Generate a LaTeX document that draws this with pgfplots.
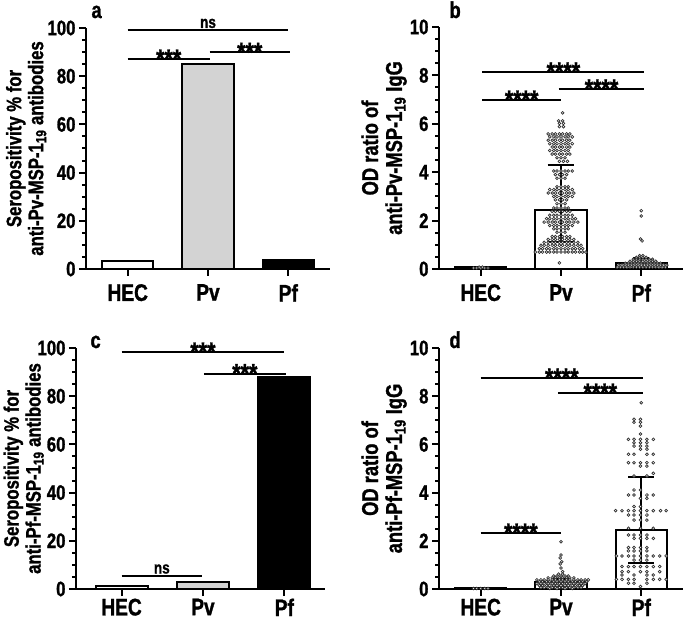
\documentclass[border=0pt]{standalone}
\usepackage{fontspec}
\setmainfont{Liberation Sans Bold}[FakeStretch=0.8, FakeBold=1.2]
\usepackage{pgfplots}
\pgfplotsset{compat=1.18}
\definecolor{lgray}{HTML}{D3D3D3}
\definecolor{ptgray}{HTML}{303030}
\pgfplotsset{
 panel/.style={
   scale only axis, anchor=south west,
   axis x line*=bottom, axis y line*=left,
   axis line style={line width=2bp, black},
   tick style={line width=2bp, black},
   tick align=outside,
   major tick length=7bp, minor tick length=4bp,
   xtick={0,1,2}, xticklabels={HEC,Pv,Pf},
   x tick label style={font=\fontsize{24}{24}\selectfont, inner sep=0.5bp, yshift=-7.5bp},
   y tick label style={font=\fontsize{21}{21}\selectfont},
   /pgf/number format/assume math mode=true,
   ymin=0, minor y tick num=3,
   xmin=-0.52, xmax=2.52, width=244bp, height=241bp,
   clip=false,
   ylabel style={font=\fontsize{21}{22}\selectfont, align=center, anchor=center},
 },
 bar/.style={ybar, bar width=0.64, bar shift=0pt, draw=black, line width=2bp},
 pts/.style={only marks, mark=*, mark size=1.4bp, mark options={draw=ptgray, fill=white, line width=0.7bp}},
 sig/.style={black, line width=2bp, forget plot, no markers},
}
\newcommand{\ns}{\fontsize{17}{17}\selectfont}
\newcommand{\st}{\fontsize{27}{27}\selectfont}
\newcommand{\pl}{\fontsize{23}{23}\selectfont}
\begin{document}
\begin{tikzpicture}
\path[use as bounding box] (0,0) rectangle (685bp,620bp);
% ---------------- panel a
\begin{axis}[panel, at={(86bp,351bp)}, ymax=100, ytick={0,20,...,100},
  ylabel={Seropositivity \% for\\anti-Pv-MSP-1\textsubscript{19} antibodies},
  ylabel style={at={(axis description cs:-0.245,0.5)}}]
\addplot[bar, fill=white] coordinates {(0,3.4)};
\addplot[bar, fill=lgray] coordinates {(1,85.2)};
\addplot[bar, fill=black] coordinates {(2,3.8)};
\addplot[sig] coordinates {(0,99.2) (2,99.2)} node[pos=0.5, anchor=base, yshift=2bp, font=\ns] {ns};
\addplot[sig] coordinates {(0,87.1) (1.02,87.1)} node[pos=0.5, anchor=base, yshift=-9bp, font=\st] {***};
\addplot[sig] coordinates {(1.02,89.9) (2.02,89.9)} node[pos=0.5, anchor=base, yshift=-9bp, font=\st] {***};
\node[anchor=base west, xshift=2bp, yshift=10bp, font=\pl] at (rel axis cs:0,1) {a};
\end{axis}
% ---------------- panel b
\begin{axis}[panel, at={(439bp,351bp)}, height=242bp, ymax=10, ytick={0,2,...,10},
  ylabel={OD ratio of\\anti-Pv-MSP-1\textsubscript{19} IgG},
  ylabel style={at={(axis description cs:-0.225,0.5)}, font=\fontsize{23}{24}\selectfont}]
\addplot[bar, fill=white] coordinates {(0,0.07)};
\addplot[bar, fill=white] coordinates {(1,2.45)};
\addplot[bar, fill=white] coordinates {(2,0.25)};
\addplot[pts] table[row sep=\\, x expr=\thisrow{d}, y=v] {
d v\\
-0.09 0.04\\ -0.05 0.04\\ 0 0.04\\ 0.05 0.04\\ 0.09 0.04\\ -0.02 0.08\\ 0.02 0.08\\
};
\addplot[pts] table[row sep=\\, x expr=\thisrow{d}+1, y=v] {
d v\\
0.02 6.45\\ -0.03 6.12\\ 0.02 6.12\\ -0.02 6.02\\ 0.03 6.02\\ -0.02 5.88\\ 0.03 5.88\\
-0.16 5.58\\ -0.11 5.58\\ -0.07 5.58\\ -0.02 5.58\\ 0.02 5.58\\ 0.07 5.58\\ 0.11 5.58\\
-0.14 5.46\\ -0.09 5.46\\ -0.05 5.46\\ 0 5.46\\ 0.05 5.46\\ 0.09 5.46\\ 0.14 5.46\\
-0.16 5.32\\ -0.11 5.32\\ -0.07 5.32\\ -0.02 5.32\\ 0.02 5.32\\ 0.07 5.32\\ 0.11 5.32\\
-0.14 5.18\\ -0.09 5.18\\ -0.05 5.18\\ 0 5.18\\ 0.05 5.18\\ 0.09 5.18\\ 0.14 5.18\\
-0.11 5.04\\ -0.07 5.04\\ -0.02 5.04\\ 0.02 5.04\\ 0.07 5.04\\ 0.11 5.04\\
-0.14 4.9\\ -0.09 4.9\\ -0.05 4.9\\ 0 4.9\\ 0.05 4.9\\ 0.09 4.9\\
-0.11 4.75\\ -0.07 4.75\\ -0.02 4.75\\ 0.02 4.75\\ 0.07 4.75\\ 0.11 4.75\\
-0.05 4.6\\ 0 4.6\\ 0.05 4.6\\
-0.02 4.45\\ 0.03 4.45\\ 0.08 4.45\\
-0.09 4.05\\ -0.05 4.05\\ 0 4.05\\ 0.05 4.05\\ 0.09 4.05\\ 0.14 4.05\\
-0.07 3.9\\ -0.02 3.9\\ 0.02 3.9\\ 0.07 3.9\\
-0.05 3.75\\ 0 3.75\\ 0.05 3.75\\
-0.05 3.4\\ 0 3.4\\ 0.05 3.4\\ 0.09 3.4\\
-0.14 3.28\\ -0.09 3.28\\ -0.05 3.28\\ 0 3.28\\ 0.05 3.28\\ 0.09 3.28\\ 0.14 3.28\\
-0.16 3.14\\ -0.11 3.14\\ -0.07 3.14\\ -0.02 3.14\\ 0.02 3.14\\ 0.07 3.14\\ 0.11 3.14\\ 0.16 3.14\\
-0.09 3.0\\ -0.05 3.0\\ 0 3.0\\ 0.05 3.0\\ 0.09 3.0\\ 0.14 3.0\\
-0.07 2.86\\ -0.02 2.86\\ 0.02 2.86\\ 0.07 2.86\\
-0.05 2.7\\ 0 2.7\\ 0.05 2.7\\
-0.09 2.52\\ -0.05 2.52\\ 0 2.52\\ 0.05 2.52\\ 0.09 2.52\\
-0.11 2.38\\ -0.07 2.38\\ -0.02 2.38\\ 0.02 2.38\\ 0.07 2.38\\ 0.11 2.38\\
-0.14 2.22\\ -0.09 2.22\\ -0.05 2.22\\ 0 2.22\\ 0.05 2.22\\ 0.09 2.22\\ 0.14 2.22\\
-0.18 2.08\\ -0.14 2.08\\ -0.09 2.08\\ -0.05 2.08\\ 0 2.08\\ 0.05 2.08\\ 0.09 2.08\\ 0.14 2.08\\ 0.18 2.08\\
-0.21 1.94\\ -0.16 1.94\\ -0.11 1.94\\ -0.07 1.94\\ -0.02 1.94\\ 0.02 1.94\\ 0.07 1.94\\ 0.11 1.94\\ 0.16 1.94\\ 0.21 1.94\\
-0.14 1.8\\ -0.09 1.8\\ -0.05 1.8\\ 0 1.8\\ 0.05 1.8\\ 0.09 1.8\\ 0.14 1.8\\
-0.09 1.66\\ -0.05 1.66\\ 0 1.66\\ 0.05 1.66\\ 0.09 1.66\\
-0.05 1.52\\ 0 1.52\\ 0.05 1.52\\
-0.11 1.34\\ -0.07 1.34\\ -0.02 1.34\\ 0.02 1.34\\ 0.07 1.34\\ 0.11 1.34\\
-0.16 1.22\\ -0.11 1.22\\ -0.07 1.22\\ -0.02 1.22\\ 0.02 1.22\\ 0.07 1.22\\ 0.11 1.22\\ 0.16 1.22\\
-0.21 1.1\\ -0.16 1.1\\ -0.11 1.1\\ -0.07 1.1\\ -0.02 1.1\\ 0.02 1.1\\ 0.07 1.1\\ 0.11 1.1\\ 0.16 1.1\\ 0.21 1.1\\
-0.25 0.98\\ -0.21 0.98\\ -0.16 0.98\\ -0.11 0.98\\ -0.07 0.98\\ -0.02 0.98\\ 0.02 0.98\\ 0.07 0.98\\ 0.11 0.98\\ 0.16 0.98\\ 0.21 0.98\\ 0.25 0.98\\
-0.27 0.84\\ -0.23 0.84\\ -0.18 0.84\\ -0.14 0.84\\ -0.09 0.84\\ -0.05 0.84\\ 0 0.84\\ 0.05 0.84\\ 0.09 0.84\\ 0.14 0.84\\ 0.18 0.84\\ 0.23 0.84\\ 0.27 0.84\\
-0.32 0.7\\ -0.27 0.7\\ -0.23 0.7\\ -0.18 0.7\\ -0.14 0.7\\ -0.09 0.7\\ -0.05 0.7\\ 0 0.7\\ 0.05 0.7\\ 0.09 0.7\\ 0.14 0.7\\ 0.18 0.7\\ 0.23 0.7\\ 0.27 0.7\\ 0.31 0.7\\
-0.02 0.25\\
};
\addplot[pts] table[row sep=\\, x expr=\thisrow{d}+2, y=v] {
d v\\
0 2.41\\ 0 2.19\\ -0.01 1.24\\ 0.01 1.16\\
-0.02 0.55\\ 0.02 0.55\\
-0.06 0.48\\ -0.02 0.48\\ 0.02 0.48\\ 0.06 0.48\\
-0.1 0.4\\ -0.06 0.4\\ -0.02 0.4\\ 0.02 0.4\\ 0.06 0.4\\ 0.1 0.4\\ 0.14 0.4\\
-0.14 0.32\\ -0.1 0.32\\ -0.06 0.32\\ -0.02 0.32\\ 0.02 0.32\\ 0.06 0.32\\ 0.1 0.32\\ 0.14 0.32\\ 0.18 0.32\\
-0.2 0.24\\ -0.16 0.24\\ -0.12 0.24\\ -0.08 0.24\\ -0.04 0.24\\ 0 0.24\\ 0.04 0.24\\ 0.08 0.24\\ 0.12 0.24\\ 0.16 0.24\\ 0.2 0.24\\ 0.24 0.24\\
-0.28 0.16\\ -0.24 0.16\\ -0.2 0.16\\ -0.16 0.16\\ -0.12 0.16\\ -0.08 0.16\\ -0.04 0.16\\ 0 0.16\\ 0.04 0.16\\ 0.08 0.16\\ 0.12 0.16\\ 0.16 0.16\\ 0.2 0.16\\ 0.24 0.16\\ 0.28 0.16\\ 0.32 0.16\\
-0.3 0.08\\ -0.26 0.08\\ -0.22 0.08\\ -0.18 0.08\\ -0.14 0.08\\ -0.1 0.08\\ -0.06 0.08\\ -0.02 0.08\\ 0.02 0.08\\ 0.06 0.08\\ 0.1 0.08\\ 0.14 0.08\\ 0.18 0.08\\ 0.22 0.08\\ 0.26 0.08\\ 0.3 0.08\\
};
% error bars (median and range lines)
\addplot[sig] coordinates {(1,1.13) (1,4.28)};
\addplot[sig] coordinates {(0.834,4.28) (1.166,4.28)};
\addplot[sig] coordinates {(0.834,1.13) (1.166,1.13)};
\addplot[sig] coordinates {(2,0.1) (2,0.45)};
\addplot[sig] coordinates {(1.9,0.45) (2.1,0.45)};
\addplot[sig] coordinates {(1.9,0.1) (2.1,0.1)};
\addplot[sig] coordinates {(0.02,8.14) (2.04,8.14)} node[pos=0.5, anchor=base, yshift=-9bp, font=\st] {****};
\addplot[sig] coordinates {(0.97,7.44) (2.04,7.44)} node[pos=0.5, anchor=base, yshift=-9bp, font=\st] {****};
\addplot[sig] coordinates {(0.02,6.98) (1.0,6.98)} node[pos=0.5, anchor=base, yshift=-9bp, font=\st] {****};
\node[anchor=base west, xshift=7bp, yshift=9bp, font=\pl] at (rel axis cs:0,1) {b};
\end{axis}
% ---------------- panel c
\begin{axis}[panel, at={(76bp,31bp)}, width=249bp, xmin=-0.56, xmax=2.5, ymax=100, ytick={0,20,...,100},
  x tick label style={yshift=5.5bp},
  ylabel={Seropositivity \% for\\anti-Pf-MSP-1\textsubscript{19} antibodies},
  ylabel style={at={(axis description cs:-0.21,0.5)}}]
\addplot[bar, fill=white] coordinates {(0,1.4)};
\addplot[bar, fill=lgray] coordinates {(1,3.1)};
\addplot[bar, fill=black] coordinates {(2,88)};
\addplot[sig] coordinates {(0,98.3) (2,98.3)} node[pos=0.5, anchor=base, yshift=-9bp, font=\st] {***};
\addplot[sig] coordinates {(1.01,89.4) (2.02,89.4)} node[pos=0.5, anchor=base, yshift=-9bp, font=\st] {***};
\addplot[sig] coordinates {(0,5.6) (0.99,5.6)} node[pos=0.5, anchor=base, yshift=2bp, font=\ns] {ns};
\node[anchor=base west, xshift=11bp, yshift=0bp, font=\pl] at (rel axis cs:0,1) {c};
\end{axis}
% ---------------- panel d
\begin{axis}[panel, at={(439bp,31bp)}, ymax=10, ytick={0,2,...,10},
  x tick label style={yshift=5.5bp},
  ylabel={OD ratio of\\anti-Pf-MSP-1\textsubscript{19} IgG},
  ylabel style={at={(axis description cs:-0.225,0.5)}, font=\fontsize{23}{24}\selectfont}]
\addplot[bar, fill=white] coordinates {(0,0.05)};
\addplot[bar, fill=white] coordinates {(1,0.28)};
\addplot[bar, fill=white] coordinates {(2,2.45)};
\addplot[pts] table[row sep=\\, x expr=\thisrow{d}, y=v] {
d v\\
-0.09 0.02\\ -0.05 0.02\\ 0 0.02\\ 0.05 0.02\\ 0.09 0.02\\
};
\addplot[pts] table[row sep=\\, x expr=\thisrow{d}+1, y=v] {
d v\\
0 1.96\\ 0 1.41\\ -0.01 1.29\\ 0.01 1.13\\ -0.01 1.04\\ 0 0.87\\ 0.02 0.72\\
-0.03 0.62\\ 0.02 0.62\\
-0.09 0.54\\ -0.05 0.54\\ 0 0.54\\ 0.05 0.54\\ 0.09 0.54\\
-0.16 0.46\\ -0.11 0.46\\ -0.07 0.46\\ -0.02 0.46\\ 0.02 0.46\\ 0.07 0.46\\ 0.11 0.46\\ 0.16 0.46\\
-0.3 0.38\\ -0.25 0.38\\ -0.21 0.38\\ -0.16 0.38\\ -0.11 0.38\\ -0.07 0.38\\ -0.02 0.38\\ 0.02 0.38\\ 0.07 0.38\\ 0.11 0.38\\ 0.16 0.38\\ 0.21 0.38\\ 0.25 0.38\\ 0.3 0.38\\ 0.34 0.38\\
-0.27 0.3\\ -0.23 0.3\\ -0.18 0.3\\ -0.14 0.3\\ -0.09 0.3\\ -0.05 0.3\\ 0 0.3\\ 0.05 0.3\\ 0.09 0.3\\ 0.14 0.3\\ 0.18 0.3\\ 0.23 0.3\\ 0.27 0.3\\ 0.32 0.3\\
-0.3 0.22\\ -0.25 0.22\\ -0.21 0.22\\ -0.16 0.22\\ -0.11 0.22\\ -0.07 0.22\\ -0.02 0.22\\ 0.02 0.22\\ 0.07 0.22\\ 0.11 0.22\\ 0.16 0.22\\ 0.21 0.22\\ 0.25 0.22\\ 0.3 0.22\\
-0.27 0.14\\ -0.23 0.14\\ -0.18 0.14\\ -0.14 0.14\\ -0.09 0.14\\ -0.05 0.14\\ 0 0.14\\ 0.05 0.14\\ 0.09 0.14\\ 0.14 0.14\\ 0.18 0.14\\ 0.23 0.14\\ 0.27 0.14\\
-0.25 0.06\\ -0.21 0.06\\ -0.16 0.06\\ -0.11 0.06\\ -0.07 0.06\\ -0.02 0.06\\ 0.02 0.06\\ 0.07 0.06\\ 0.11 0.06\\ 0.16 0.06\\ 0.21 0.06\\ 0.25 0.06\\
-0.14 0.02\\ -0.05 0.02\\ 0.05 0.02\\ 0.14 0.02\\
};
\addplot[pts] table[row sep=\\, x expr=\thisrow{d}+2, y=v] {
d v\\
0 7.73\\ -0.09 7.04\\ -0.01 7.04\\ -0.09 6.92\\ -0.01 6.92\\ -0.01 6.76\\ -0.01 6.43\\
-0.16 6.21\\ -0.09 6.21\\ -0.01 6.21\\ 0.07 6.21\\ 0.15 6.21\\
-0.09 6.07\\ -0.01 6.07\\ 0.07 6.07\\
-0.09 5.93\\ -0.01 5.93\\ 0.07 5.93\\
-0.01 5.8\\ 0.07 5.8\\
-0.16 5.59\\ -0.09 5.59\\ 0.07 5.59\\ 0.15 5.59\\
-0.16 5.24\\ -0.09 5.24\\ -0.01 5.24\\ 0.07 5.24\\ 0.15 5.24\\
-0.01 5.1\\ 0.07 5.1\\
0.15 4.8\\ -0.09 4.69\\ 0.07 4.69\\
-0.09 4.11\\ -0.01 4.11\\
-0.16 3.9\\ -0.09 3.9\\ 0.07 3.9\\ 0.15 3.9\\
-0.01 3.76\\ 0.07 3.76\\
-0.09 3.42\\ -0.01 3.42\\
-0.32 3.25\\ -0.24 3.25\\ -0.16 3.25\\ -0.09 3.25\\ -0.01 3.25\\ 0.07 3.25\\ 0.15 3.25\\ 0.24 3.25\\ 0.31 3.25\\
-0.16 3.07\\ -0.09 3.07\\ -0.01 3.07\\ 0.07 3.07\\
-0.09 2.86\\ -0.01 2.86\\ 0.07 2.86\\
-0.16 2.52\\ -0.01 2.52\\ 0.15 2.52\\
-0.16 2.24\\ -0.09 2.24\\ -0.01 2.24\\ 0.07 2.24\\
-0.09 2.1\\ -0.01 2.1\\ 0.07 2.1\\ 0.15 2.1\\
-0.16 1.72\\ -0.09 1.72\\ -0.01 1.72\\ 0.07 1.72\\
-0.16 1.58\\ -0.09 1.58\\ -0.01 1.58\\ 0.07 1.58\\
-0.31 1.37\\ -0.24 1.37\\ -0.16 1.37\\ -0.09 1.37\\ -0.01 1.37\\ 0.07 1.37\\ 0.15 1.37\\ 0.23 1.37\\ 0.31 1.37\\
-0.09 1.2\\ -0.01 1.2\\ 0.07 1.2\\
-0.24 0.93\\ -0.16 0.93\\ -0.09 0.93\\ -0.01 0.93\\ 0.07 0.93\\ 0.15 0.93\\ 0.23 0.93\\
-0.24 0.72\\ -0.16 0.72\\ -0.01 0.72\\ 0.07 0.72\\ 0.23 0.72\\
-0.24 0.58\\ -0.09 0.58\\ 0.07 0.58\\ 0.15 0.58\\
-0.31 0.4\\ -0.24 0.4\\ -0.16 0.4\\ -0.09 0.4\\ 0.07 0.4\\ 0.15 0.4\\ 0.23 0.4\\ 0.31 0.4\\
-0.16 0.24\\ -0.09 0.24\\ 0.07 0.24\\
-0.01 0.1\\
};
\addplot[sig] coordinates {(2,1.08) (2,4.65)};
\addplot[sig] coordinates {(1.84,4.65) (2.16,4.65)};
\addplot[sig] coordinates {(1.84,1.08) (2.16,1.08)};
\addplot[sig] coordinates {(1,0.14) (1,0.4)};
\addplot[sig] coordinates {(0.9,0.4) (1.1,0.4)};
\addplot[sig] coordinates {(0.9,0.14) (1.1,0.14)};
\addplot[sig] coordinates {(0,8.75) (2.02,8.75)} node[pos=0.5, anchor=base, yshift=-9bp, font=\st] {****};
\addplot[sig] coordinates {(0.96,8.13) (2.02,8.13)} node[pos=0.5, anchor=base, yshift=-9bp, font=\st] {****};
\addplot[sig] coordinates {(0,2.32) (1.0,2.32)} node[pos=0.5, anchor=base, yshift=-9bp, font=\st] {****};
\node[anchor=base west, xshift=7bp, yshift=0bp, font=\pl] at (rel axis cs:0,1) {d};
\end{axis}
\end{tikzpicture}
\end{document}
